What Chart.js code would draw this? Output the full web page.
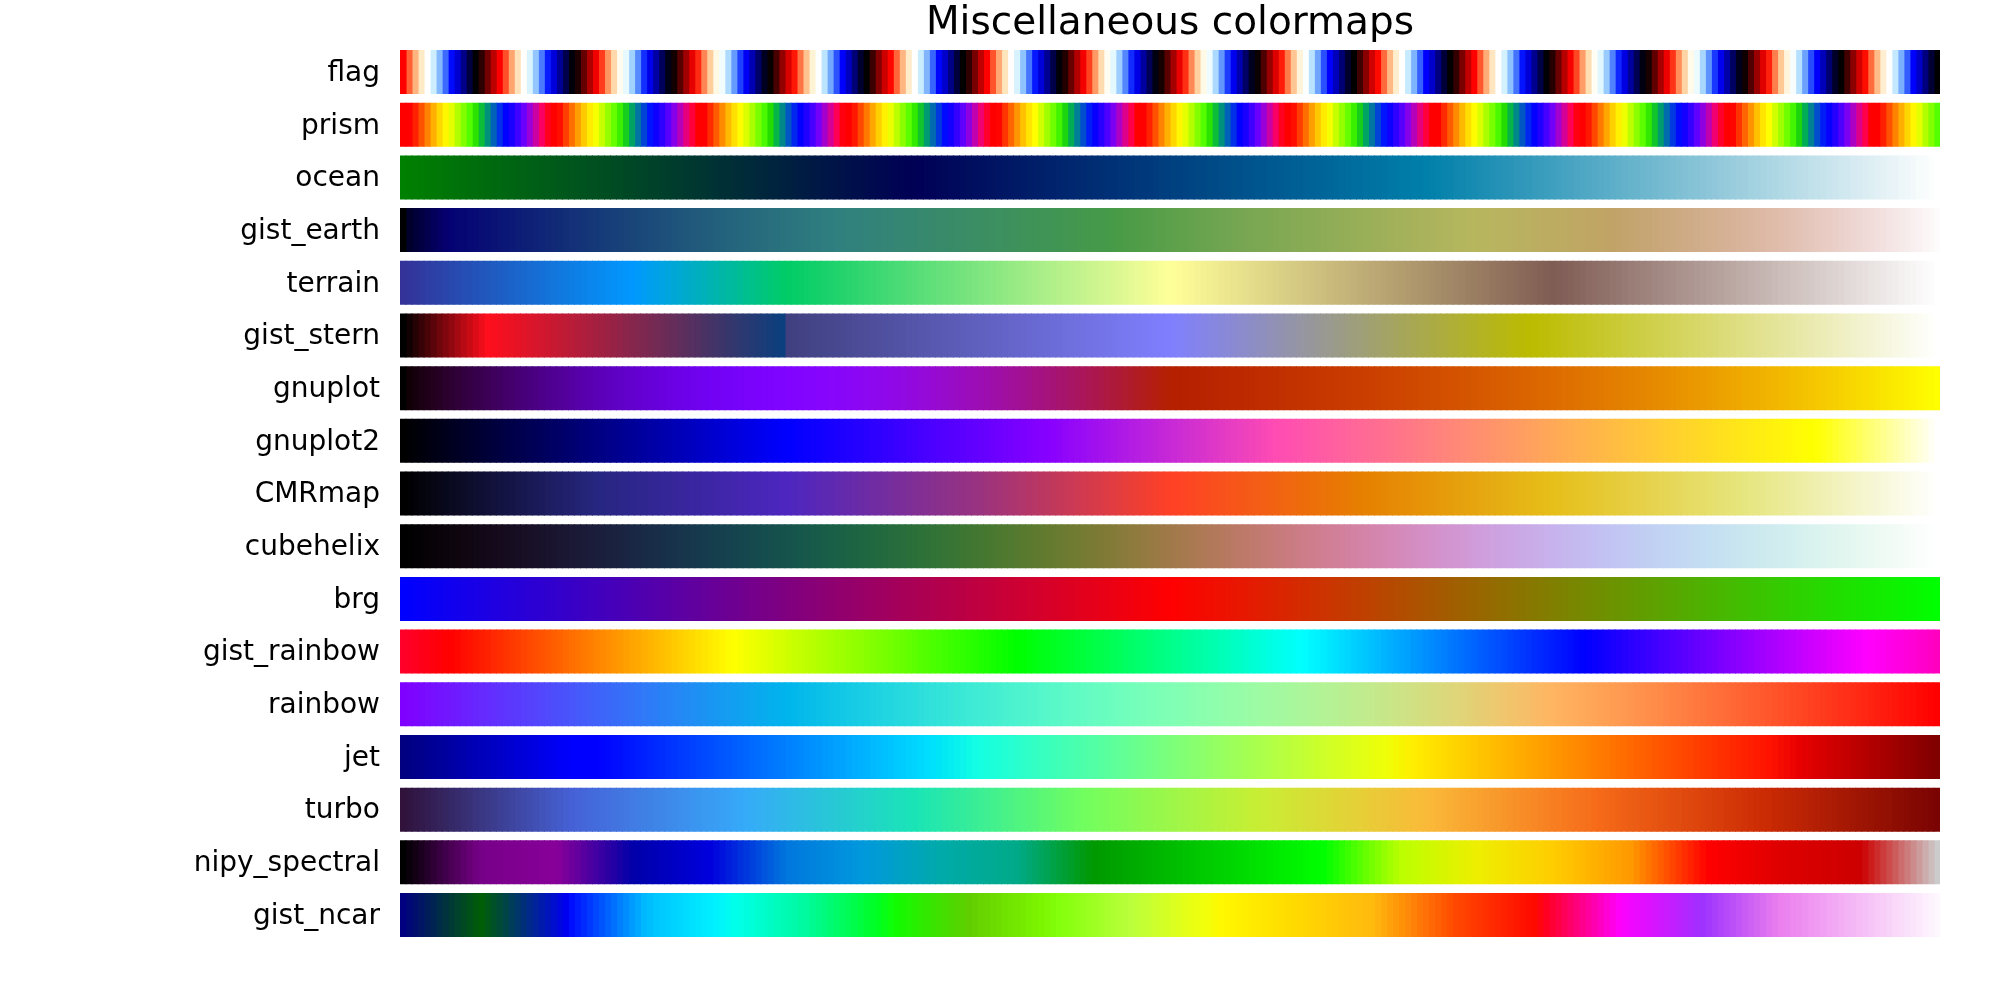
<!DOCTYPE html>
<html>
<head>
<meta charset="utf-8">
<script src="https://cdn.jsdelivr.net/npm/chart.js@4/dist/chart.umd.min.js"></script>
<style>
  body { margin: 0; background: #fff; }
  canvas { display: block; }
</style>
</head>
<body>
<canvas id="colormapChart" width="2000" height="1000"></canvas>
<script>
// rows, top to bottom
const colormapNames = ['flag', 'prism', 'ocean', 'gist_earth', 'terrain', 'gist_stern',
    'gnuplot', 'gnuplot2', 'CMRmap', 'cubehelix', 'brg', 'gist_rainbow', 'rainbow',
    'jet', 'turbo', 'nipy_spectral', 'gist_ncar'];
const cellCount = 256;
const chartTitle = 'Miscellaneous colormaps';

// colour stops (position, colour)
const terrainStops = [[0.00, '#333399'], [0.15, '#0099ff'], [0.25, '#00cc66'],
    [0.50, '#ffff99'], [0.75, '#805c54'], [1.00, '#ffffff']];
const brgStops = [[0, '#0000ff'], [0.5, '#ff0000'], [1, '#00ff00']];
const gistRainbowStops = [[0.000, '#ff0029'], [0.030, '#ff0000'], [0.215, '#ffff00'],
    [0.400, '#00ff00'], [0.586, '#00ffff'], [0.770, '#0000ff'], [0.954, '#ff00ff'], [1.000, '#ff00bf']];
const cmrStops = [[0, '#000000'], [0.125, '#262680'], [0.25, '#4d26bf'], [0.375, '#993380'],
    [0.5, '#ff4026'], [0.625, '#e68000'], [0.75, '#e6bf1a'], [0.875, '#e6e680'], [1, '#ffffff']];
const nipyStops = ['#000000', '#770088', '#880099', '#0000aa', '#0000dd', '#0077dd', '#0099dd',
    '#00aaaa', '#00aa88', '#009900', '#00bb00', '#00dd00', '#00ff00', '#bbff00', '#eeee00',
    '#ffcc00', '#ff9900', '#ff0000', '#dd0000', '#cc0000', '#cccccc'].map((c, i) => [i * 0.05, c]);
const turboStops = ['#30123b', '#4662d7', '#36aaf9', '#1ae4b6', '#72fe5e', '#c7ef34',
    '#faba39', '#f66b19', '#cb2a04', '#7a0403'].map((c, i) => [i / 9, c]);

// per-channel segments: [x, value from left, value from right]
const jetSegments = {
    red: [[0, 0, 0], [0.35, 0, 0], [0.66, 1, 1], [0.89, 1, 1], [1, 0.5, 0.5]],
    green: [[0, 0, 0], [0.125, 0, 0], [0.375, 1, 1], [0.64, 1, 1], [0.91, 0, 0], [1, 0, 0]],
    blue: [[0, 0.5, 0.5], [0.11, 1, 1], [0.34, 1, 1], [0.65, 0, 0], [1, 0, 0]]
};
const gistSternSegments = {
    red: [[0, 0, 0], [0.0547, 1, 1], [0.25, 0.027, 0.25], [1, 1, 1]],
    green: [[0, 0, 0], [1, 1, 1]],
    blue: [[0, 0, 0], [0.5, 1, 1], [0.735, 0, 0], [1, 1, 1]]
};
const gistEarthSegments = {
    red: [[0, 0, 0], [0.2824, 0.1882, 0.1882], [0.4588, 0.2714, 0.2714], [0.5490, 0.4719, 0.4719],
        [0.6980, 0.7176, 0.7176], [0.7882, 0.7553, 0.7553], [1, 0.9922, 0.9922]],
    green: [[0, 0, 0], [0.0275, 0, 0], [0.1098, 0.1893, 0.1893], [0.1647, 0.3035, 0.3035],
        [0.2078, 0.3841, 0.3841], [0.2824, 0.5020, 0.5020], [0.5216, 0.6397, 0.6397],
        [0.6980, 0.7171, 0.7171], [0.7882, 0.6392, 0.6392], [0.8157, 0.6549, 0.6549],
        [0.8667, 0.6991, 0.6991], [0.8980, 0.7430, 0.7430], [0.9412, 0.8275, 0.8275],
        [0.9647, 0.8816, 0.8816], [1, 0.9843, 0.9843]],
    blue: [[0, 0, 0], [0.0039, 0.1684, 0.1684], [0.0078, 0.2212, 0.2212], [0.0275, 0.4329, 0.4329],
        [0.0314, 0.4549, 0.4549], [0.2824, 0.5004, 0.5004], [0.4667, 0.2748, 0.2748],
        [0.5451, 0.3205, 0.3205], [0.7843, 0.3961, 0.3961], [0.8941, 0.6651, 0.6651],
        [1, 0.9843, 0.9843]]
};
const gistNcarSegments = {
    red: [[0, 0, 0], [0.3098, 0, 0], [0.3725, 0.3993, 0.3993], [0.4235, 0.5003, 0.5003],
        [0.5333, 1, 1], [0.7922, 1, 1], [0.8471, 0.6218, 0.6218], [0.8980, 0.9235, 0.9235],
        [1, 0.9961, 0.9961]],
    green: [[0, 0, 0], [0.0510, 0.3722, 0.3722], [0.1059, 0, 0], [0.1569, 0.7202, 0.7202],
        [0.1647, 0.7752, 0.7752], [0.2157, 1, 1], [0.2588, 0.9804, 0.9804], [0.2706, 0.9804, 0.9804],
        [0.3176, 1, 1], [0.3686, 0.8081, 0.8081], [0.4275, 1, 1], [0.5216, 1, 1],
        [0.6314, 0.7292, 0.7292], [0.6863, 0.2796, 0.2796], [0.7451, 0, 0], [0.7922, 0, 0],
        [0.8431, 0.1753, 0.1753], [0.8980, 0.5, 0.5], [1, 0.9725, 0.9725]],
    blue: [[0, 0.5020, 0.5020], [0.0510, 0.0222, 0.0222], [0.1098, 1, 1], [0.2039, 1, 1],
        [0.2627, 0.6145, 0.6145], [0.3216, 0, 0], [0.4157, 0, 0], [0.4745, 0.2342, 0.2342],
        [0.5333, 0, 0], [0.5804, 0, 0], [0.6314, 0.0549, 0.0549], [0.6902, 0, 0],
        [0.7373, 0, 0], [0.7922, 0.9738, 0.9738], [0.8, 1, 1], [0.8431, 1, 1],
        [0.8980, 0.9341, 0.9341], [1, 0.9961, 0.9961]]
};

function clip(v) { return Math.min(1, Math.max(0, v)); }

function hexToRgb(hex) {
    const n = parseInt(hex.slice(1), 16);
    return [(n >> 16 & 255) / 255, (n >> 8 & 255) / 255, (n & 255) / 255];
}

function fromStops(stops, x) {
    for (let k = 1; k < stops.length; k++) {
        if (x <= stops[k][0] + 1e-9) {
            const a = stops[k - 1], b = stops[k];
            const f = (x - a[0]) / (b[0] - a[0]);
            const ca = hexToRgb(a[1]), cb = hexToRgb(b[1]);
            return ca.map((v, j) => v + (cb[j] - v) * f);
        }
    }
    return hexToRgb(stops[stops.length - 1][1]);
}

function channel(seg, x) {
    for (let k = 1; k < seg.length; k++) {
        if (x <= seg[k][0] + 1e-9) {
            const a = seg[k - 1], b = seg[k];
            const f = (x - a[0]) / (b[0] - a[0]);
            return a[2] + (b[1] - a[2]) * f;
        }
    }
    return seg[seg.length - 1][1];
}

function fromSegments(seg, x) {
    return [channel(seg.red, x), channel(seg.green, x), channel(seg.blue, x)];
}

// gnuplot style channel functions
function gfunc(n, x) {
    switch (n) {
        case 3: return x;
        case 5: return x * x * x;
        case 7: return Math.sqrt(x);
        case 10: return Math.cos(x * Math.PI / 2);
        case 13: return Math.sin(x * Math.PI);
        case 15: return Math.sin(x * 2 * Math.PI);
        case 23: return 3 * x - 2;
        case 28: return Math.abs((3 * x - 1) / 2);
        case 30: return x / 0.32 - 0.78125;
        case 31: return 2 * x - 0.84;
        case 32:
            if (x < 0.25) return 4 * x;
            if (x < 0.42) return 1;
            if (x < 0.92) return -2 * x + 1.84;
            return x / 0.08 - 11.5;
        case 33: return Math.abs(2 * x - 0.5);
    }
    return 0;
}

function cubehelix(x) {
    const a = x * (1 - x) / 2;
    const phi = 2 * Math.PI * (0.5 / 3 - 1.5 * x);
    const c = Math.cos(phi), s = Math.sin(phi);
    return [x + a * (-0.14861 * c + 1.78277 * s),
            x + a * (-0.29227 * c - 0.90649 * s),
            x + a * (1.97294 * c)];
}

function colorAt(name, x) {
    const pi = Math.PI;
    switch (name) {
        case 'flag': return [0.75 * Math.sin((x * 31.5 + 0.25) * pi) + 0.5,
            Math.sin(x * 31.5 * pi), 0.75 * Math.sin((x * 31.5 - 0.25) * pi) + 0.5];
        case 'prism': return [0.75 * Math.sin((x * 20.9 + 0.25) * pi) + 0.67,
            0.75 * Math.sin((x * 20.9 - 0.25) * pi) + 0.33, -1.1 * Math.sin(x * 20.9 * pi)];
        case 'ocean': return [gfunc(23, x), gfunc(28, x), gfunc(3, x)];
        case 'gnuplot': return [gfunc(7, x), gfunc(5, x), gfunc(15, x)];
        case 'gnuplot2': return [gfunc(30, x), gfunc(31, x), gfunc(32, x)];
        case 'rainbow': return [gfunc(33, x), gfunc(13, x), gfunc(10, x)];
        case 'cubehelix': return cubehelix(x);
        case 'gist_earth': return fromSegments(gistEarthSegments, x);
        case 'gist_stern': return fromSegments(gistSternSegments, x);
        case 'gist_ncar': return fromSegments(gistNcarSegments, x);
        case 'jet': return fromSegments(jetSegments, x);
        case 'terrain': return fromStops(terrainStops, x);
        case 'brg': return fromStops(brgStops, x);
        case 'gist_rainbow': return fromStops(gistRainbowStops, x);
        case 'CMRmap': return fromStops(cmrStops, x);
        case 'nipy_spectral': return fromStops(nipyStops, x);
        case 'turbo': return fromStops(turboStops, x);
    }
    return [0, 0, 0];
}

function toCss(rgb) {
    const c = rgb.map(v => Math.round(clip(v) * 255));
    return 'rgb(' + c[0] + ',' + c[1] + ',' + c[2] + ')';
}

// one dataset per gradient cell, stacked left to right
const datasets = [];
for (let i = 0; i < cellCount; i++) {
    const t = i / (cellCount - 1);
    datasets.push({
        label: 'cell ' + i,
        data: colormapNames.map(() => 1),
        backgroundColor: colormapNames.map(name => toCss(colorAt(name, t))),
        borderWidth: 0,
        inflateAmount: 0.5,
        categoryPercentage: 0.816,
        barPercentage: 1
    });
}

const titlePlugin = {
    id: 'axesTitle',
    afterDraw(chart) {
        const ctx = chart.ctx;
        const area = chart.chartArea;
        ctx.save();
        ctx.font = '39px "DejaVu Sans"';
        ctx.fillStyle = '#000';
        ctx.textAlign = 'center';
        ctx.textBaseline = 'alphabetic';
        ctx.fillText(chartTitle, (area.left + area.right) / 2, 34);
        ctx.restore();
    }
};

const ctx = document.getElementById('colormapChart').getContext('2d');
new Chart(ctx, {
    type: 'bar',
    data: {
        labels: colormapNames,
        datasets: datasets
    },
    options: {
        indexAxis: 'y',
        responsive: false,
        animation: false,
        layout: { padding: { top: 45.7, right: 60, bottom: 58.6, left: 0 } },
        plugins: {
            legend: { display: false },
            tooltip: { enabled: false },
            title: { display: false }
        },
        scales: {
            x: { stacked: true, min: 0, max: cellCount, display: false },
            y: {
                stacked: true,
                grid: { display: false, drawTicks: false },
                border: { display: false },
                ticks: {
                    color: '#000',
                    font: { family: 'DejaVu Sans', size: 28 },
                    padding: 20,
                    labelOffset: 1.5
                },
                afterFit(scale) { scale.width = 400; }
            }
        }
    },
    plugins: [titlePlugin]
});
</script>
</body>
</html>
